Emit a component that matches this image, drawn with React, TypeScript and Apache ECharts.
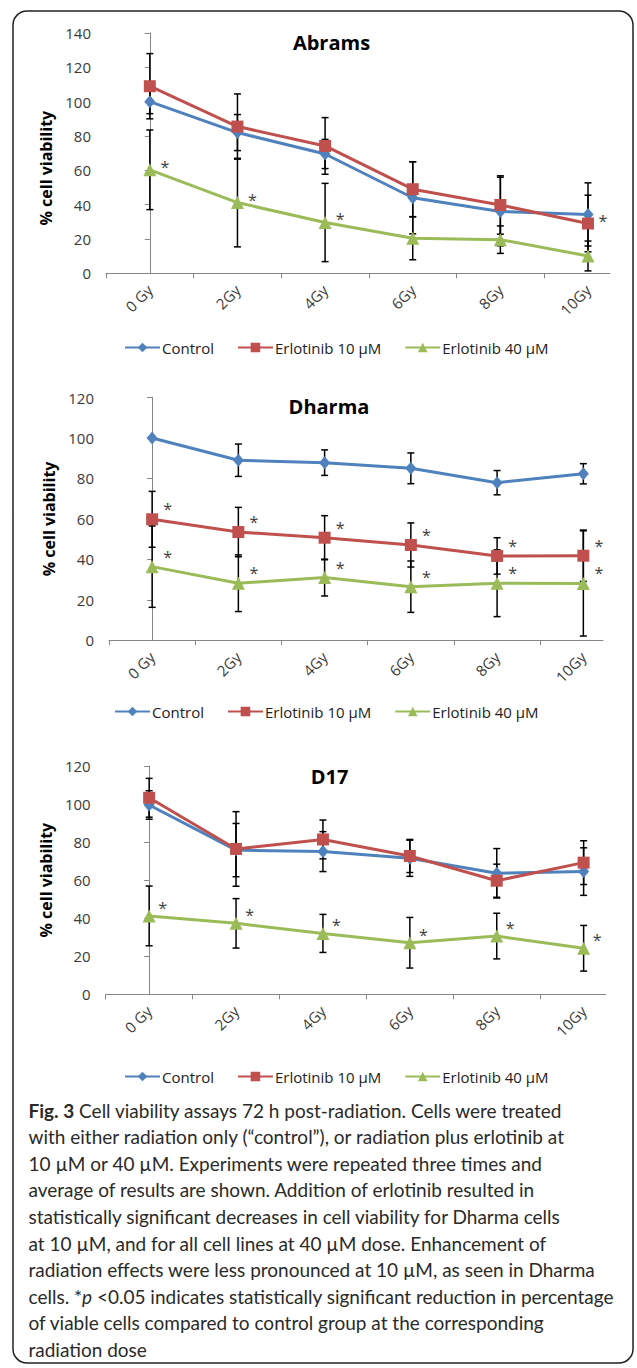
import React, { useEffect, useRef } from 'react';
import * as echarts from 'echarts';

// ---------- data ----------
const categories = ['0 Gy', '2Gy', '4Gy', '6Gy', '8Gy', '10Gy'];
const seriesNames = ['Control', 'Erlotinib 10 µM', 'Erlotinib 40 µM'];
const yAxisTitle = '% cell viability';

// Abrams
const abramsTitle = 'Abrams';
const abramsYTicks = [0, 20, 40, 60, 80, 100, 120, 140];
const abramsControl = [100, 82, 69.5, 44, 36, 34.3];
const abramsControlErr = [7, 10.5, 8.5, 21, 20, 18.4];
const abramsErl10 = [109, 85.5, 74.2, 49, 39.8, 29];
const abramsErl10Err = [19, 19, 16.5, 16, 17, 16.5];
const abramsErl40 = [60.3, 41.2, 29.6, 20.4, 19.6, 10.1];
const abramsErl40Err = [23.2, 25.8, 22.8, 12.5, 8, 8.7];
const abramsControlSig = [false, false, false, false, false, false];
const abramsErl10Sig = [false, false, false, false, false, true];
const abramsErl40Sig = [true, true, true, false, false, false];

// Dharma
const dharmaTitle = 'Dharma';
const dharmaYTicks = [0, 20, 40, 60, 80, 100, 120];
const dharmaControl = [100, 89, 87.8, 85, 77.9, 82.3];
const dharmaControlErr = [0, 8, 6.3, 7.6, 6, 5];
const dharmaErl10 = [59.8, 53.5, 50.7, 47.1, 41.7, 41.8];
const dharmaErl10Err = [13.8, 12.2, 10.9, 10.9, 9, 12.7];
const dharmaErl40 = [36.4, 28.2, 31, 26.5, 28.2, 28.1];
const dharmaErl40Err = [20.1, 14, 9.1, 12.7, 16.5, 26];
const dharmaControlSig = [false, false, false, false, false, false];
const dharmaErl10Sig = [true, true, true, true, true, true];
const dharmaErl40Sig = [true, true, true, true, true, true];

// D17
const d17Title = 'D17';
const d17YTicks = [0, 20, 40, 60, 80, 100, 120];
const d17Control = [99.5, 75.8, 75, 71.5, 63.6, 64.5];
const d17ControlErr = [7.5, 14, 10.5, 9.5, 13, 12.5];
const d17Erl10 = [103.3, 76.4, 81.4, 72.7, 59.7, 69.2];
const d17Erl10Err = [10.2, 19.6, 10.2, 8.7, 8.7, 11.5];
const d17Erl40 = [41.2, 37.3, 32, 27.1, 30.6, 24.2];
const d17Erl40Err = [15.7, 13, 10, 13.3, 12, 12];
const d17ControlSig = [false, false, false, false, false, false];
const d17Erl10Sig = [false, false, false, false, false, false];
const d17Erl40Sig = [true, true, true, true, true, true];

const captionLines = [
  '{b|Fig. 3} Cell viability assays 72 h post-radiation. Cells were treated',
  'with either radiation only (“control”), or radiation plus erlotinib at',
  '10 µM or 40 µM. Experiments were repeated three times and',
  'average of results are shown. Addition of erlotinib resulted in',
  'statistically significant decreases in cell viability for Dharma cells',
  'at 10 µM, and for all cell lines at 40 µM dose. Enhancement of',
  'radiation effects were less pronounced at 10 µM, as seen in Dharma',
  'cells. *{i|p} <0.05 indicates statistically significant reduction in percentage',
  'of viable cells compared to control group at the corresponding',
  'radiation dose',
];

// ---------- styling / layout ----------
const seriesColors = ['#4F81BD', '#C0504D', '#9BBB59'];
const seriesSymbols = ['diamond', 'rect', 'triangle'];
const seriesSymbolSizes: any[] = [[11, 13], 12, 13];
const FONT = 'Open Sans';
const CAP_FONT = 'Lato';
const CAP_SIZE = 19;

const panels = [
  {
    title: abramsTitle, yTicks: abramsYTicks,
    values: [abramsControl, abramsErl10, abramsErl40],
    errs: [abramsControlErr, abramsErl10Err, abramsErl40Err],
    sigs: [abramsControlSig, abramsErl10Sig, abramsErl40Sig],
  },
  {
    title: dharmaTitle, yTicks: dharmaYTicks,
    values: [dharmaControl, dharmaErl10, dharmaErl40],
    errs: [dharmaControlErr, dharmaErl10Err, dharmaErl40Err],
    sigs: [dharmaControlSig, dharmaErl10Sig, dharmaErl40Sig],
  },
  {
    title: d17Title, yTicks: d17YTicks,
    values: [d17Control, d17Erl10, d17Erl40],
    errs: [d17ControlErr, d17Erl10Err, d17Erl40Err],
    sigs: [d17ControlSig, d17Erl10Sig, d17Erl40Sig],
  },
];

const layouts = [
  { left: 106, top: 33, width: 504, height: 240.3, xMax: 5.251, titleX: 331.5, titleTop: 32, legendLeft: 124, legendTop: 340, star: [15, -3], namePad: [0, 30, 0, 0] },
  { left: 109, top: 397.5, width: 494, height: 242.8, xMax: 5.228, titleX: 329, titleTop: 396, legendLeft: 114, legendTop: 704, star: [15.5, -10], namePad: [0, 0, 0, 0] },
  { left: 105.7, top: 766, width: 500, height: 228.3, xMax: 5.254, titleX: 329.5, titleTop: 766, legendLeft: 124, legendTop: 1069, star: [13.5, -8], namePad: [0, 0, 0, 0] },
];

function errorBarRender(params: any, api: any) {
  const x = api.value(0);
  const y = api.value(1);
  const e = api.value(2);
  if (!e) return null;
  const top = api.coord([x, y + e]);
  const bot = api.coord([x, y - e]);
  const half = 3.5;
  const st = { stroke: '#000', lineWidth: 1.5 };
  return {
    type: 'group',
    children: [
      { type: 'line', shape: { x1: top[0], y1: top[1], x2: bot[0], y2: bot[1] }, style: st },
      { type: 'line', shape: { x1: top[0] - half, y1: top[1], x2: top[0] + half, y2: top[1] }, style: st },
      { type: 'line', shape: { x1: bot[0] - half, y1: bot[1], x2: bot[0] + half, y2: bot[1] }, style: st },
    ],
  };
}

function buildOption() {
  const grid: any[] = [];
  const xAxis: any[] = [];
  const yAxis: any[] = [];
  const title: any[] = [];
  const legend: any[] = [];
  const series: any[] = [];

  panels.forEach((p, k) => {
    const L = layouts[k];
    grid.push({ left: L.left, top: L.top, width: L.width, height: L.height, containLabel: false });
    xAxis.push({
      type: 'value',
      gridIndex: k,
      min: -0.5,
      max: L.xMax,
      splitLine: { show: false },
      axisLine: { show: true, lineStyle: { color: '#868686', width: 1 } },
      axisTick: {
        show: true, length: 5, lineStyle: { color: '#868686' },
        customValues: categories.map((_, i) => i - 0.5),
      },
      axisLabel: {
        show: true,
        customValues: categories.map((_, i) => i),
        formatter: (v: number) => categories[Math.round(v)] ?? '',
        rotate: 45,
        margin: 14,
        fontFamily: FONT,
        fontSize: 15,
        color: '#3a3a3a',
      },
    });
    const ticks = p.yTicks;
    yAxis.push({
      type: 'value',
      gridIndex: k,
      min: ticks[0],
      max: ticks[ticks.length - 1],
      interval: ticks[1] - ticks[0],
      name: yAxisTitle,
      nameLocation: 'middle',
      nameRotate: 90,
      nameGap: 50,
      nameTextStyle: { fontFamily: FONT, fontWeight: 'bold', fontSize: 16, color: '#000', padding: L.namePad },
      splitLine: { show: false },
      axisLine: { show: true, lineStyle: { color: '#868686', width: 1 } },
      axisTick: { show: true, length: 5, lineStyle: { color: '#868686' } },
      axisLabel: { margin: 15, fontFamily: FONT, fontSize: 15, color: '#3a3a3a' },
    });
    title.push({
      text: p.title,
      left: L.titleX,
      top: L.titleTop,
      textAlign: 'center',
      padding: 0,
      textStyle: { fontFamily: FONT, fontWeight: 'bold', fontSize: 20, color: '#000' },
    });
    legend.push({
      data: seriesNames,
      left: L.legendLeft,
      top: L.legendTop,
      padding: 0,
      itemGap: 23,
      itemWidth: 35,
      itemHeight: 12,
      selectedMode: false,
      textStyle: { fontFamily: FONT, fontSize: 15, color: '#222', padding: [0, 0, 0, -3] },
    });

    p.values.forEach((vals, s) => {
      const errs = p.errs[s];
      const sig = p.sigs[s];
      series.push({
        type: 'custom',
        name: 'err-' + k + '-' + s,
        xAxisIndex: k,
        yAxisIndex: k,
        silent: true,
        z: 2,
        renderItem: errorBarRender,
        data: vals.map((v, i) => [i, v, errs[i]]),
      });
      series.push({
        type: 'line',
        name: seriesNames[s],
        xAxisIndex: k,
        yAxisIndex: k,
        z: 3,
        symbol: seriesSymbols[s],
        symbolSize: seriesSymbolSizes[s],
        showAllSymbol: true,
        color: seriesColors[s],
        itemStyle: { color: seriesColors[s] },
        lineStyle: { color: seriesColors[s], width: 3 },
        emphasis: { disabled: true },
        label: {
          show: false,
          formatter: '*',
          position: 'inside',
          offset: L.star,
          fontFamily: FONT,
          fontSize: 16,
          color: '#404040',
        },
        data: vals.map((v, i) => (sig[i] ? { value: [i, v], label: { show: true } } : { value: [i, v] })),
      });
    });
  });

  const graphic: any[] = [
    {
      type: 'rect',
      shape: { x: 13, y: 11, width: 620, height: 1352, r: 14 },
      style: { fill: 'none', stroke: '#222', lineWidth: 1.5 },
      z: -1,
      silent: true,
    },
  ];
  captionLines.forEach((line, i) => {
    graphic.push({
      type: 'text',
      x: 28.5,
      y: 1110 + 26.6 * i,
      silent: true,
      style: {
        text: line,
        fontFamily: CAP_FONT,
        fontSize: CAP_SIZE,
        fill: '#2a2a2a',
        verticalAlign: 'middle',
        align: 'left',
        rich: {
          b: { fontFamily: CAP_FONT, fontSize: CAP_SIZE, fontWeight: 'bold', fill: '#2a2a2a' },
          i: { fontFamily: CAP_FONT, fontSize: CAP_SIZE, fontStyle: 'italic', fill: '#2a2a2a' },
        },
      },
    });
  });

  return {
    animation: false,
    backgroundColor: '#ffffff',
    grid,
    xAxis,
    yAxis,
    title,
    legend,
    series,
    graphic,
  };
}

export default function App() {
  const ref = useRef<HTMLDivElement>(null);
  useEffect(() => {
    if (!ref.current) return;
    const chart = echarts.init(ref.current, undefined, { renderer: 'svg' });
    chart.setOption(buildOption() as any);
    return () => chart.dispose();
  }, []);
  return (
    <div
      ref={ref}
      style={{ position: 'absolute', left: 0, top: 0, width: 637, height: 1368, background: '#fff' }}
    />
  );
}
